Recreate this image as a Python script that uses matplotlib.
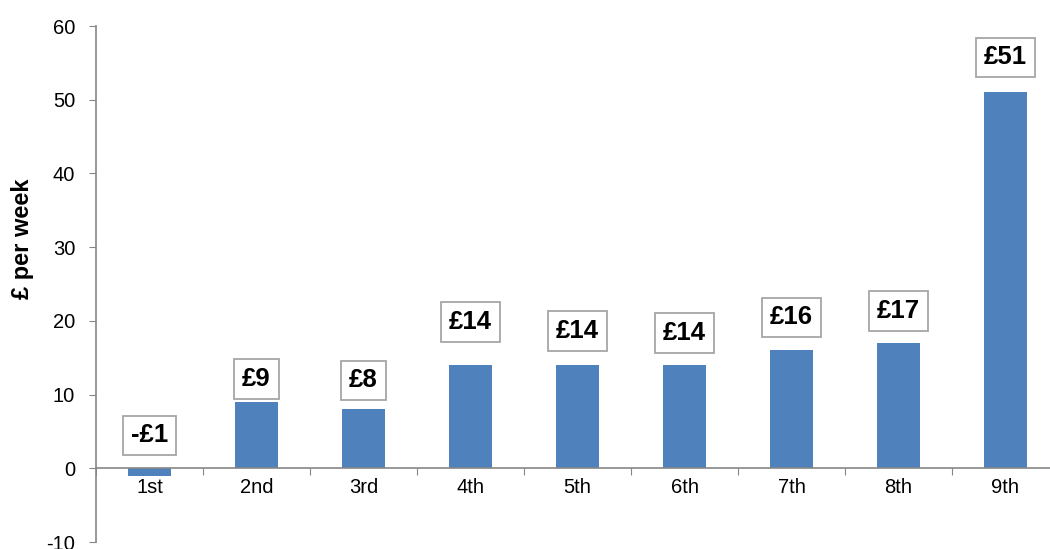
import numpy as np
import matplotlib
matplotlib.use("Agg")
import matplotlib.pyplot as plt

plt.rcParams['font.family'] = ['Liberation Sans', 'DejaVu Sans']
plt.rcParams['axes.unicode_minus'] = False

# deciles and weekly gain
categories = ["1st", "2nd", "3rd", "4th", "5th", "6th", "7th", "8th", "9th"]
values = [-1, 9, 8, 14, 14, 14, 16, 17, 51]
labels = ["-£1", "£9", "£8", "£14", "£14", "£14", "£16", "£17", "£51"]

# label box height above bar top, in pixels
label_offsets = [33, 23, 29, 43, 34, 32, 33, 32, 35]

bar_color = "#4f81bd"
axis_color = "#868686"

fig = plt.figure(figsize=(10.5, 5.49), dpi=100)
ax = fig.add_axes([96/1050, 7/549, 963/1050, 516/549])

x = np.arange(len(categories))
ax.bar(x, values, width=0.4, color=bar_color, zorder=2)

ax.set_xlim(-0.5, len(categories) - 0.5)
ax.set_ylim(-10, 60)
ax.set_yticks(range(-10, 61, 10))
ax.tick_params(axis='y', labelsize=14.5, length=5, color=axis_color, pad=10)

# category axis sits on zero
ax.spines['bottom'].set_position(('data', 0))
for s in ['top', 'right']:
    ax.spines[s].set_visible(False)
for s in ['left', 'bottom']:
    ax.spines[s].set_color(axis_color)
    ax.spines[s].set_linewidth(1.2)

ax.set_xticks(np.arange(len(categories) + 1) - 0.5)
ax.set_xticklabels([])
ax.set_xticks(x, minor=True)
ax.set_xticklabels(categories, minor=True)
ax.tick_params(axis='x', which='major', length=5, color=axis_color, direction='out')
ax.tick_params(axis='x', which='minor', length=0, labelsize=14.5, pad=7)

fig.text(23/1050, 1 - 239/549, "£ per week", rotation=90, ha='center', va='center',
         fontsize=17, fontweight='bold')

for xi, v, lab, off in zip(x, values, labels, label_offsets):
    ax.annotate(lab, (xi, max(v, 0)), xytext=(0, off), textcoords='offset pixels',
                ha='center', va='center', fontsize=18.5, fontweight='bold',
                bbox=dict(boxstyle='square,pad=0.3', fc='white', ec='#a6a6a6', lw=1.3))

fig.savefig("out.png", dpi=100)
